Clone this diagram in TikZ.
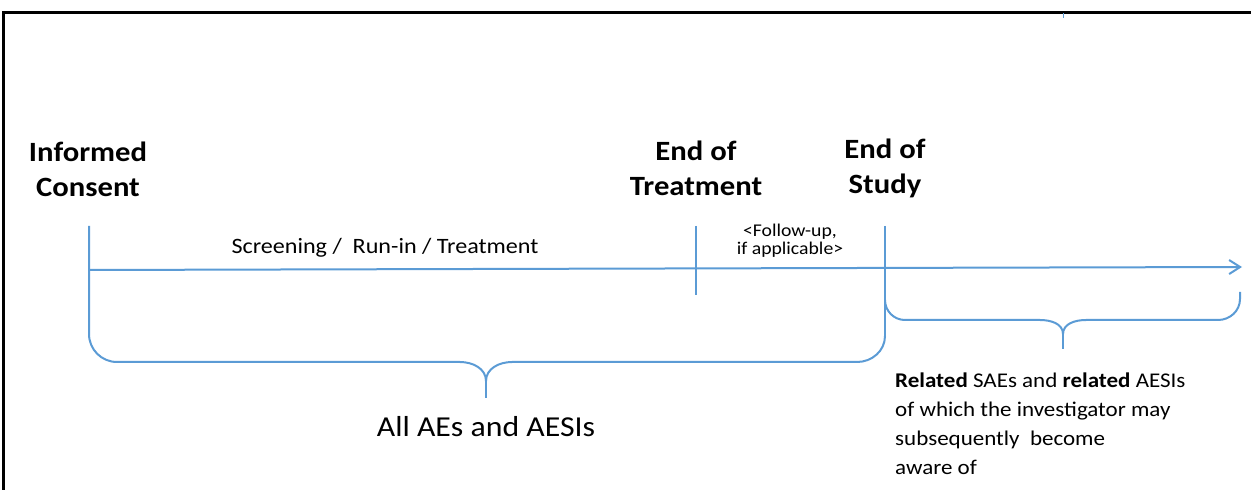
\documentclass[tikz,border=0pt]{standalone}
\usepackage{fontspec}
\setmainfont{Carlito}[FakeStretch=1.1]
\usetikzlibrary{arrows.meta}
\definecolor{lineblue}{RGB}{91,155,213}
\begin{document}
\begin{tikzpicture}[x=1bp,y=-1bp,
  tl/.style={draw=lineblue,line width=2bp},
  milestone/.style={font=\bfseries\fontsize{28}{35}\selectfont,align=center,inner sep=0pt},
  phase/.style={font=\fontsize{22}{26}\selectfont,inner sep=0pt},
  note/.style={font=\fontsize{18}{18.5}\selectfont,align=center,inner sep=0pt},
  summary/.style={font=\fontsize{29}{34}\selectfont,inner sep=0pt},
  detail/.style={font=\fontsize{21}{29}\selectfont,align=left,inner sep=0pt}]
\useasboundingbox (0,0) rectangle (1251,490);

% frame
\draw[black,line width=2.2bp] (3.5,491) -- (3.5,12.5) -- (1252,12.5);
\draw[lineblue,line width=1bp] (1063,13.5) -- (1063,18);

% milestone labels
\node[milestone] (ic)  at (88,169)  {Informed\\Consent};
\node[milestone] (eot) at (696,168) {End of\\Treatment};
\node[milestone] (eos) at (885,168) {End of\\Study};

% timeline points
\coordinate (icTop)  at (89,226);
\coordinate (icBase) at (89,270);
\coordinate (eotTop) at (696,226);
\coordinate (eotBot) at (696,295);
\coordinate (eosTop) at (885,226);
\coordinate (eosBot) at (885,336);
\coordinate (arrowEnd) at (1242,267);

% main time axis
\draw[tl,-{Straight Barb[length=11bp,width=14bp]}] (icBase) -- (arrowEnd);
\draw[tl] (eotTop) -- (eotBot);
\draw[tl] (eosTop) -- (eosBot);

% brace: all AEs and AESIs
\coordinate (bigTip) at (486,381);
\draw[tl] (icTop) -- (89,334) to[out=-90,in=180] (117,362) -- (460,362)
  to[out=0,in=90] (bigTip) to[out=90,in=180] (512,362) -- (857,362)
  to[out=0,in=-90] (eosBot);
\draw[tl] (bigTip) -- (486,398);

% brace: related events after end of study
\coordinate (smallTip) at (1063,334);
\draw[tl] (885,300) to[out=-90,in=180] (905,320) -- (1040,320)
  to[out=0,in=90] (smallTip) to[out=90,in=180] (1086,320) -- (1218,320)
  to[out=0,in=-90] (1240,299) -- (1240,292);
\draw[tl] (smallTip) -- (1063,349);

% period labels
\node[phase] (scr) at (385,248) {Screening /\ \ Run-in / Treatment};
\node[note] (fu) at (790,241) {<Follow-up,\\if applicable>};
\node[summary] (all) at (486,427) {All AEs and AESIs};
\node[detail,anchor=west] (rel) at (895,424)
  {\textbf{Related} SAEs and \textbf{related} AESIs\\
   of which the investigator may\\
   subsequently\ \ become\\
   aware of};
\end{tikzpicture}
\end{document}
